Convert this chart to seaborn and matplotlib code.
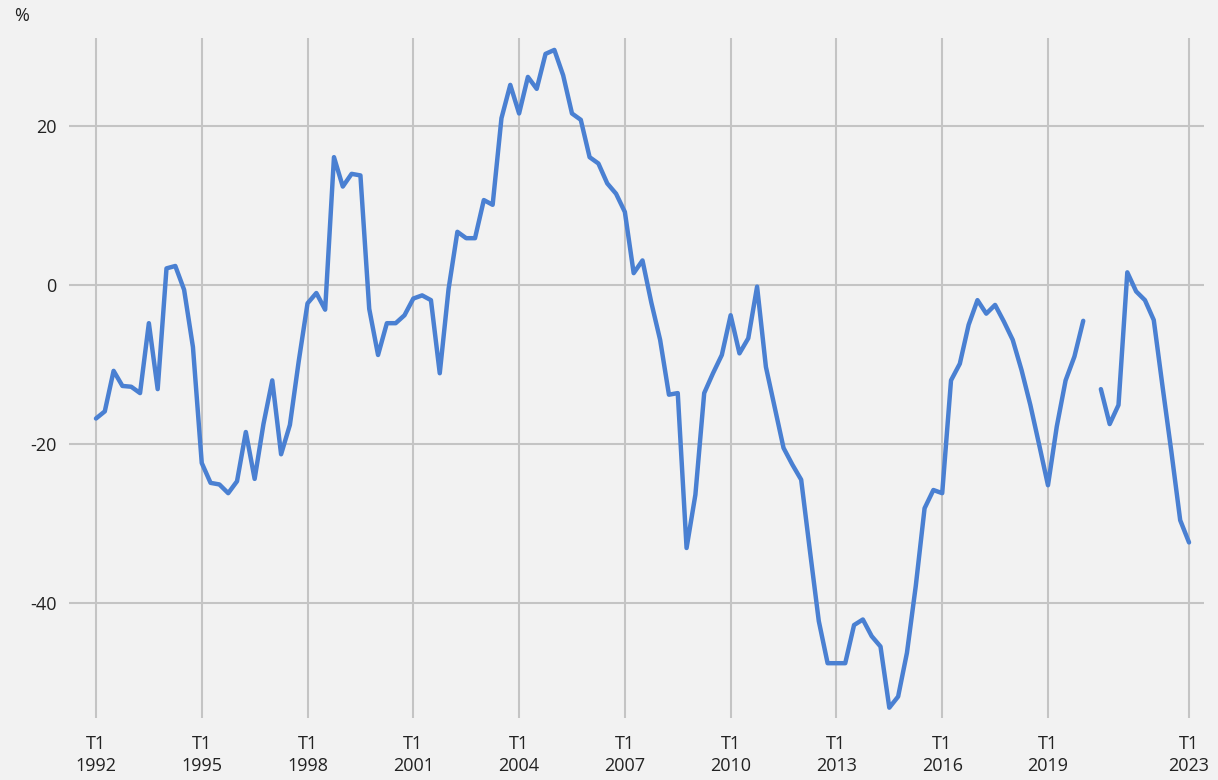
import numpy as np
import pandas as pd
import matplotlib
matplotlib.use("Agg")
import matplotlib.pyplot as plt
import seaborn as sns

# Quarterly series, T1 1992 .. T1 2023 (index 113 = T2 2020 missing)
values = [
    -16.8, -15.9, -10.8, -12.7, -12.8, -13.6, -4.8, -13.1,      # 1992-1993
    2.1, 2.4, -0.6, -7.8, -22.4, -24.9, -25.1, -26.2,           # 1994-1995
    -24.7, -18.5, -24.4, -17.5, -12.0, -21.3, -17.6, -9.6,      # 1996-1997
    -2.3, -1.0, -3.1, 16.1, 12.4, 14.0, 13.8, -3.0,             # 1998-1999
    -8.8, -4.8, -4.8, -3.8, -1.7, -1.3, -1.9, -11.1,            # 2000-2001
    -0.5, 6.7, 5.9, 5.9, 10.7, 10.1, 21.0, 25.2,                # 2002-2003
    21.6, 26.2, 24.7, 29.1, 29.6, 26.4, 21.6, 20.8,             # 2004-2005
    16.1, 15.3, 12.8, 11.5, 9.2, 1.5, 3.1, -2.2,                # 2006-2007
    -6.9, -13.8, -13.6, -33.1, -26.4, -13.6, -11.1, -8.8,       # 2008-2009
    -3.8, -8.6, -6.7, -0.2, -10.3, -15.4, -20.5, -22.6,         # 2010-2011
    -24.5, -33.5, -42.3, -47.6, -47.6, -47.6, -42.8, -42.1,     # 2012-2013
    -44.2, -45.5, -53.2, -51.8, -46.3, -37.9, -28.1, -25.8,     # 2014-2015
    -26.2, -12.0, -9.9, -5.0, -1.9, -3.6, -2.5, -4.6,           # 2016-2017
    -6.9, -10.7, -15.1, -20.1, -25.2, -17.8, -12.0, -9.0,       # 2018-2019
    -4.5, np.nan, -13.1, -17.5, -15.1, 1.6, -0.8, -1.9,         # 2020-2021
    -4.4, -12.8, -21.0, -29.6, -32.4,                           # 2022-2023 T1
]
tick_years = ["1992", "1995", "1998", "2001", "2004", "2007", "2010",
              "2013", "2016", "2019", "2023"]
y_ticks = [20, 0, -20, -40]
y_tick_labels = ["20", "0", "-20", "-40"]

quarter = np.arange(len(values))
df = pd.DataFrame({"q": quarter, "v": values})
df["seg"] = df["v"].isna().cumsum()
df = df.dropna()

bg = "#f2f2f2"
sns.set_theme(style="white")
plt.rcParams["font.family"] = ["Open Sans", "DejaVu Sans"]

fig = plt.figure(figsize=(12.18, 7.8), dpi=100, facecolor=bg)
ax = fig.add_axes([69 / 1218, 1 - 718 / 780, (1204 - 69) / 1218, (718 - 38) / 780])
ax.set_facecolor(bg)

for _, seg in df.groupby("seg"):
    sns.lineplot(data=seg, x="q", y="v", ax=ax, color="#4a80d2",
                 linewidth=3.2, solid_capstyle="round", solid_joinstyle="round")

ax.set_xlim(-3.06, 125.7)
ax.set_ylim(-54.5, 31.1)

tick_pos = [int(y) - 1992 for y in tick_years]
tick_pos = [(int(y) - 1992) * 4 for y in tick_years]
ax.set_xticks(tick_pos)
ax.set_xticklabels([f"T1\n{y}" for y in tick_years], fontsize=13, color="#222222",
                   linespacing=1.3)
ax.set_yticks(y_ticks)
ax.set_yticklabels(y_tick_labels, fontsize=13, color="#222222")
ax.tick_params(axis="both", length=0)
ax.tick_params(axis="x", pad=12)
ax.tick_params(axis="y", pad=9)

ax.grid(True, color="#c4c4c4", linewidth=1.5)
ax.set_axisbelow(True)
for s in ax.spines.values():
    s.set_visible(False)
ax.set_xlabel("")
ax.set_ylabel("")

fig.text(22 / 1218, 1 - 16 / 780, "%", fontsize=13, color="#222222",
         ha="center", va="center")

fig.savefig("out.png", dpi=100, facecolor=bg)
